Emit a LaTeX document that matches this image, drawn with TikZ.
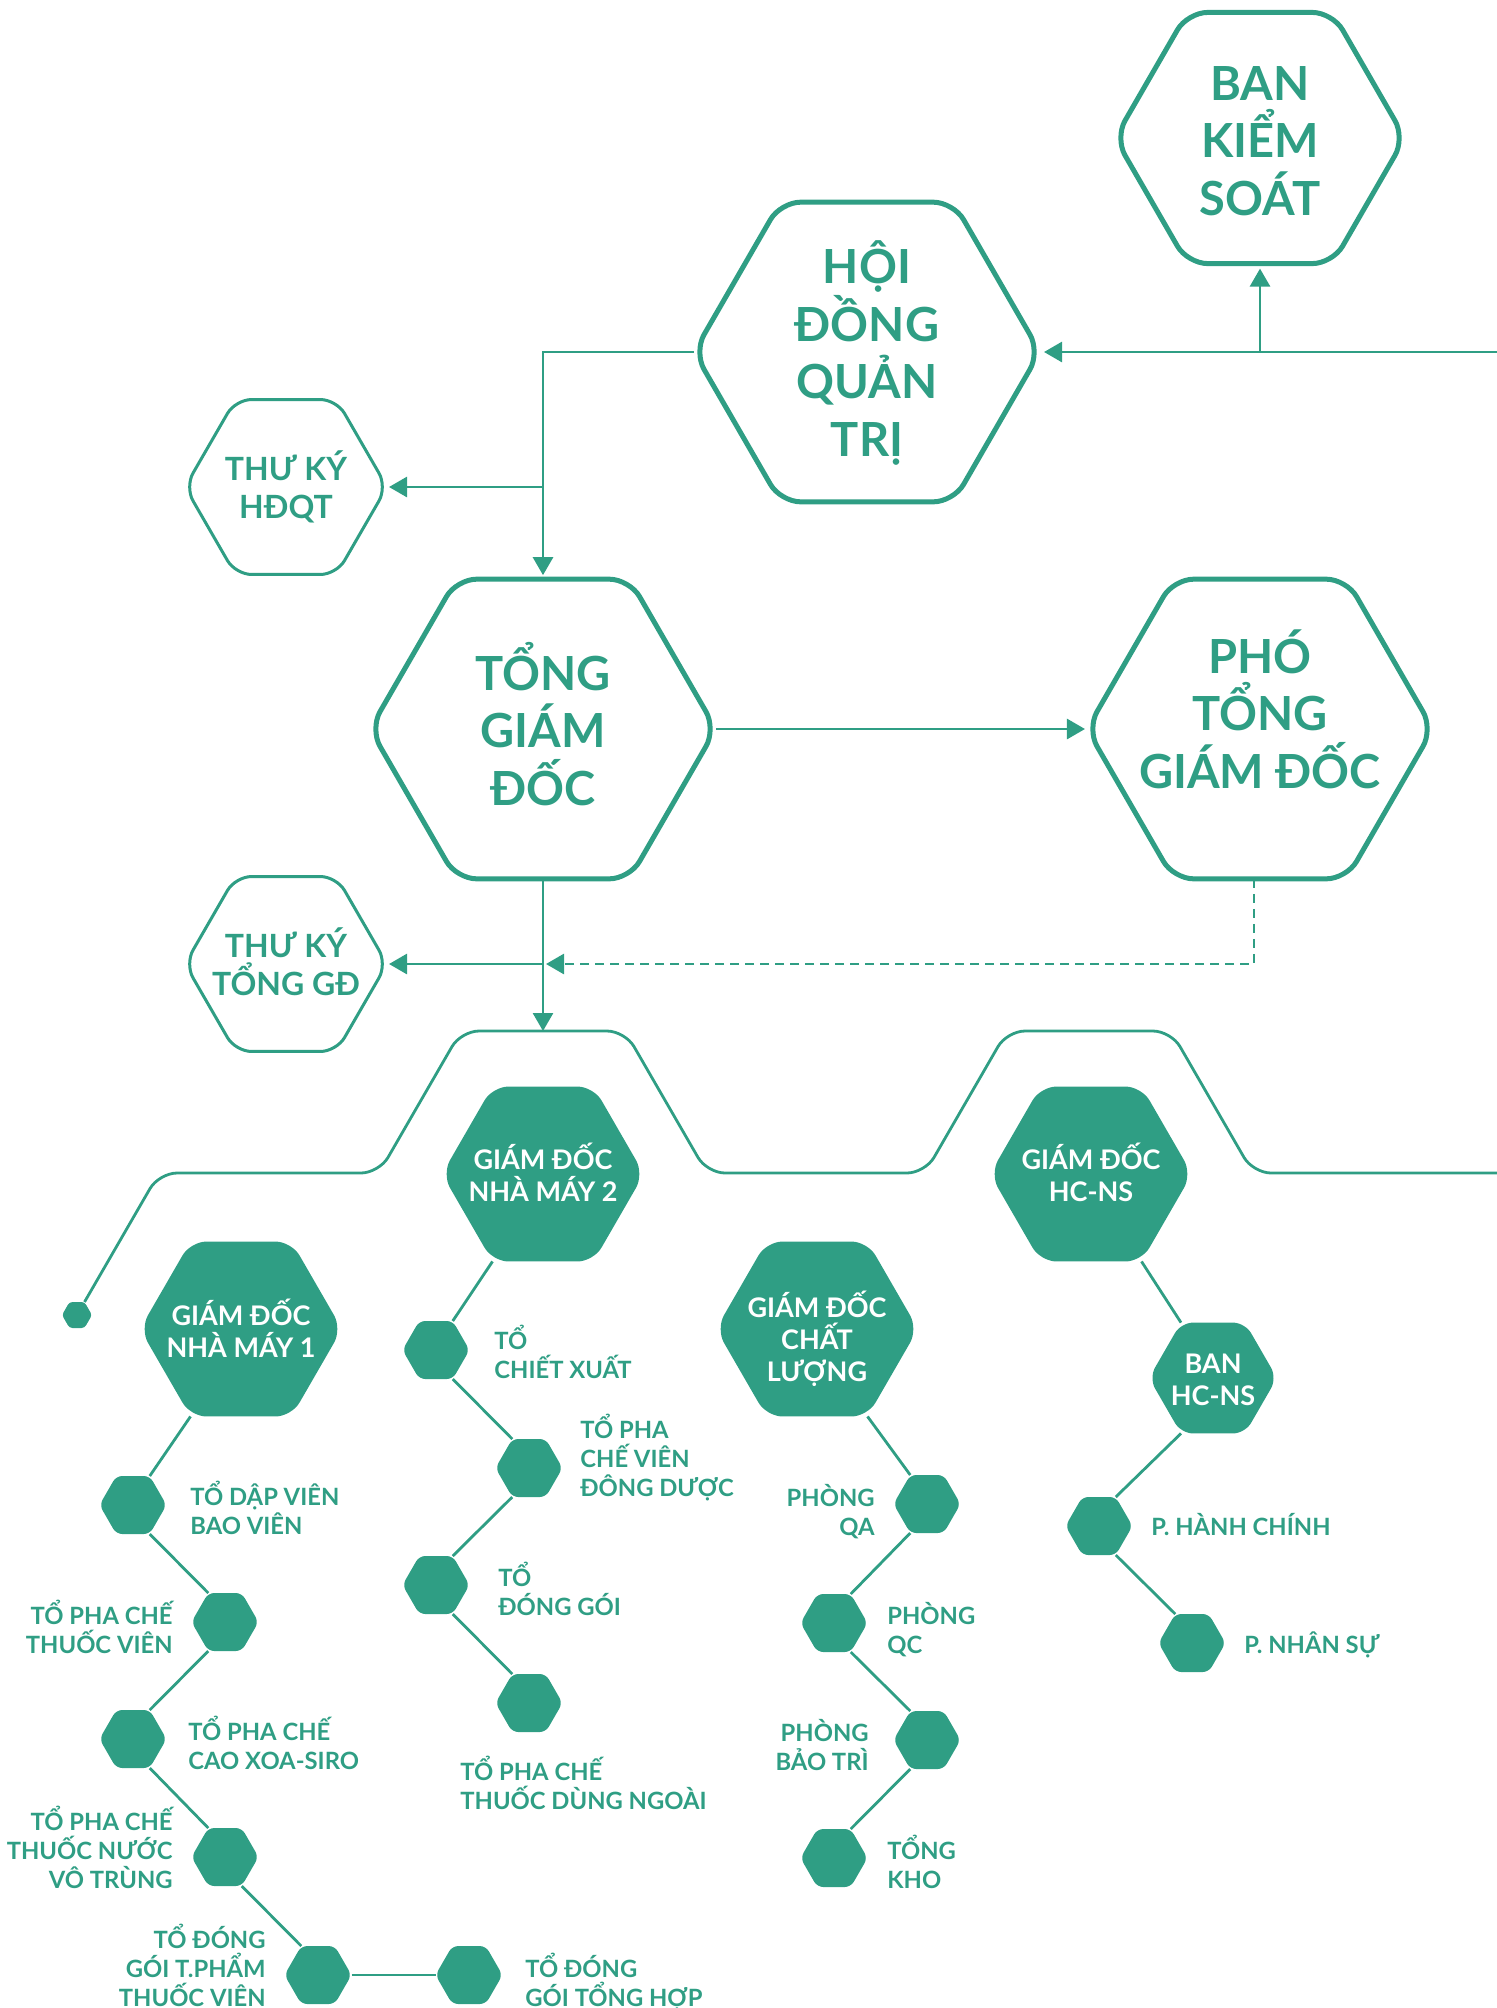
\documentclass[tikz,border=0pt]{standalone}
\usepackage{fontspec}
\setmainfont{Lato}
\usetikzlibrary{shapes.geometric,arrows.meta,calc}
\definecolor{tealg}{RGB}{47,158,132}
\begin{document}
\begin{tikzpicture}[x=0.5pt,y=-0.5pt,
  hexo/.style={regular polygon, regular polygon sides=6, inner sep=0pt, outer sep=0pt},
  bighex/.style={hexo, draw=tealg, fill=white, line width=2.5pt, minimum size=173pt, rounded corners=10pt},
  tkhex/.style={hexo, draw=tealg, fill=white, line width=1.5pt, minimum size=101pt, rounded corners=8pt},
  fhex/.style={hexo, fill=tealg, minimum size=101pt, rounded corners=8pt},
  mhex/.style={hexo, fill=tealg, minimum size=64pt, rounded corners=6pt},
  shex/.style={hexo, fill=tealg, minimum size=33.5pt, rounded corners=3pt},
  thex/.style={hexo, fill=tealg, minimum size=15pt, rounded corners=1.5pt},
  conn/.style={draw=tealg, line width=1.4pt},
  arr/.style={-{Triangle[length=9pt,width=10pt]}},
  dsh/.style={dash pattern=on 4.5pt off 3pt},
  bigt/.style={inner sep=0pt, anchor=base, align=center, text=tealg, font=\fontsize{23.5}{28.75}\selectfont\bfseries},
  tkt/.style={inner sep=0pt, anchor=base, align=center, text=tealg, font=\fontsize{16}{19}\selectfont\bfseries},
  wt/.style={inner sep=0pt, anchor=base, align=center, text=white, font=\fontsize{13.5}{15.9}\selectfont\bfseries},
  lbl/.style={inner sep=0pt, text=tealg, font=\fontsize{11.9}{14.5}\selectfont\bfseries},
  lblL/.style={lbl, anchor=base west, align=left},
  lblR/.style={lbl, anchor=base east, align=right}
]
\useasboundingbox (0,0) rectangle (1497,2008);
\clip (0,0) rectangle (1497,2008);

% outlined hexagons
\node[bighex, minimum size=145pt] (bks) at (1260,138) {};
\node[bighex] (hdqt) at (867,352) {};
\node[tkhex] (tkh) at (286,487) {};
\node[bighex] (tgd) at (543,729) {};
\node[bighex] (ptgd) at (1260,729) {};
\node[tkhex] (tkg) at (286,964) {};

% (anchor base = baseline of the last line)
\node[bigt] (t-bks) at (1260,215) {BAN\\KIỂM\\SOÁT};
\node[bigt] (t-hdqt) at (867,456) {HỘI\\ĐỒNG\\QUẢN\\TRỊ};
\node[bigt] (t-tgd) at (543,805) {TỔNG\\GIÁM\\ĐỐC};
\node[bigt] (t-ptgd) at (1260,788) {PHÓ\\TỔNG\\GIÁM ĐỐC};
\node[tkt] (t-tkh) at (286,518) {THƯ KÝ\\HĐQT};
\node[tkt] (t-tkg) at (286,995) {THƯ KÝ\\TỔNG GĐ};

% connectors (top)
\coordinate (re) at (1497,352);
\coordinate (jb) at (1260,352);
\coordinate (j1) at (543,487);
\coordinate (j2) at (543,964);
\coordinate (j2d) at (546,964);
\coordinate (nm2top) at (543,1031);
\draw[conn, arr, shorten >=2pt] (re) -- (hdqt.east);
\draw[conn, arr, shorten >=2.5pt] (jb) -- (bks.south);
\draw[conn, arr, shorten >=2pt] (hdqt.west) -| (tgd.north);
\draw[conn, arr, shorten >=1pt] (j1) -- (tkh.east);
\draw[conn, arr, shorten >=1pt] (tgd.east) -- (ptgd.west);
\draw[conn, arr] (tgd.south) -- (nm2top);
\draw[conn, arr, shorten >=1pt] (j2) -- (tkg.east);
\draw[conn, dsh, arr] ([xshift=-3pt]ptgd.south) |- (j2d);

% filled hexagons
\node[thex] (tiny) at (77,1315) {};
\node[fhex] (nm2) at (543,1174) {};
\node[fhex] (hcns) at (1091,1174) {};
\node[fhex] (nm1) at (241,1329) {};
\node[fhex] (cl) at (817,1329) {};
\node[mhex] (ban) at (1213,1378) {};

\node[wt] (t-nm2) at (543,1201) {GIÁM ĐỐC\\NHÀ MÁY 2};
\node[wt] (t-hcns) at (1091,1201) {GIÁM ĐỐC\\HC-NS};
\node[wt] (t-nm1) at (241,1357) {GIÁM ĐỐC\\NHÀ MÁY 1};
\node[wt] (t-cl) at (817,1381) {GIÁM ĐỐC\\CHẤT\\LƯỢNG};
\node[wt] (t-ban) at (1213,1405) {BAN\\HC-NS};

% wavy outline
\draw[conn, rounded corners=9pt] (tiny.60) -- (159,1173) -- (379,1173) -- (461,1031) -- (625,1031) -- (707,1173) -- (925,1173) -- (1007,1031) -- (1171,1031) -- (1253,1173) -- (1510,1173);

% chain NM1
\node[shex] (a1) at (133,1505) {};
\node[shex] (a2) at (225,1622) {};
\node[shex] (a3) at (133,1739) {};
\node[shex] (a4) at (225,1857) {};
\node[shex] (a5) at (318,1975) {};
\node[shex] (a6) at (469,1975) {};
\draw[conn] (nm1.240) -- (a1.60);
\draw[conn] (a1.300) -- (a2.120);
\draw[conn] (a2.240) -- (a3.60);
\draw[conn] (a3.300) -- (a4.120);
\draw[conn] (a4.300) -- (a5.120);
\draw[conn] (a5.east) -- (a6.west);
\node[lblL] (la1) at (190,1534) {TỔ DẬP VIÊN\\BAO VIÊN};
\node[lblR] (la2) at (173,1653) {TỔ PHA CHẾ\\THUỐC VIÊN};
\node[lblL] (la3) at (188,1769) {TỔ PHA CHẾ\\CAO XOA-SIRO};
\node[lblR] (la4) at (173,1888) {TỔ PHA CHẾ\\THUỐC NƯỚC\\VÔ TRÙNG};
\node[lblR] (la5) at (266,2006) {TỔ ĐÓNG\\GÓI T.PHẨM\\THUỐC VIÊN};
\node[lblL] (la6) at (525,2006) {TỔ ĐÓNG\\GÓI TỔNG HỢP};

% chain NM2
\node[shex] (b1) at (436,1350) {};
\node[shex] (b2) at (529,1468) {};
\node[shex] (b3) at (436,1585) {};
\node[shex] (b4) at (529,1703) {};
\draw[conn] (nm2.240) -- (b1.60);
\draw[conn] (b1.300) -- (b2.120);
\draw[conn] (b2.240) -- (b3.60);
\draw[conn] (b3.300) -- (b4.120);
\node[lblL] (lb1) at (494,1378) {TỔ\\CHIẾT XUẤT};
\node[lblL] (lb2) at (580,1496) {TỔ PHA\\CHẾ VIÊN\\ĐÔNG DƯỢC};
\node[lblL] (lb3) at (498,1615) {TỔ\\ĐÓNG GÓI};
\node[lblL] (lb4) at (460,1809) {TỔ PHA CHẾ\\THUỐC DÙNG NGOÀI};

% chain CL
\node[shex] (c1) at (927,1504) {};
\node[shex] (c2) at (834,1623) {};
\node[shex] (c3) at (927,1740) {};
\node[shex] (c4) at (834,1858) {};
\draw[conn] (cl.300) -- (c1.120);
\draw[conn] (c1.240) -- (c2.60);
\draw[conn] (c2.300) -- (c3.120);
\draw[conn] (c3.240) -- (c4.60);
\node[lblR] (lc1) at (875,1535) {PHÒNG\\QA};
\node[lblL] (lc2) at (887,1653) {PHÒNG\\QC};
\node[lblR] (lc3) at (869,1770) {PHÒNG\\BẢO TRÌ};
\node[lblL] (lc4) at (887,1888) {TỔNG\\KHO};

% chain HC-NS
\node[shex] (d1) at (1099,1526) {};
\node[shex] (d2) at (1192,1643) {};
\draw[conn] (hcns.300) -- (ban.120);
\draw[conn] (ban.240) -- (d1.60);
\draw[conn] (d1.300) -- (d2.120);
\node[lblL] (ld1) at (1151,1535) {P. HÀNH CHÍNH};
\node[lblL] (ld2) at (1244,1653) {P. NHÂN SỰ};
\end{tikzpicture}
\end{document}
